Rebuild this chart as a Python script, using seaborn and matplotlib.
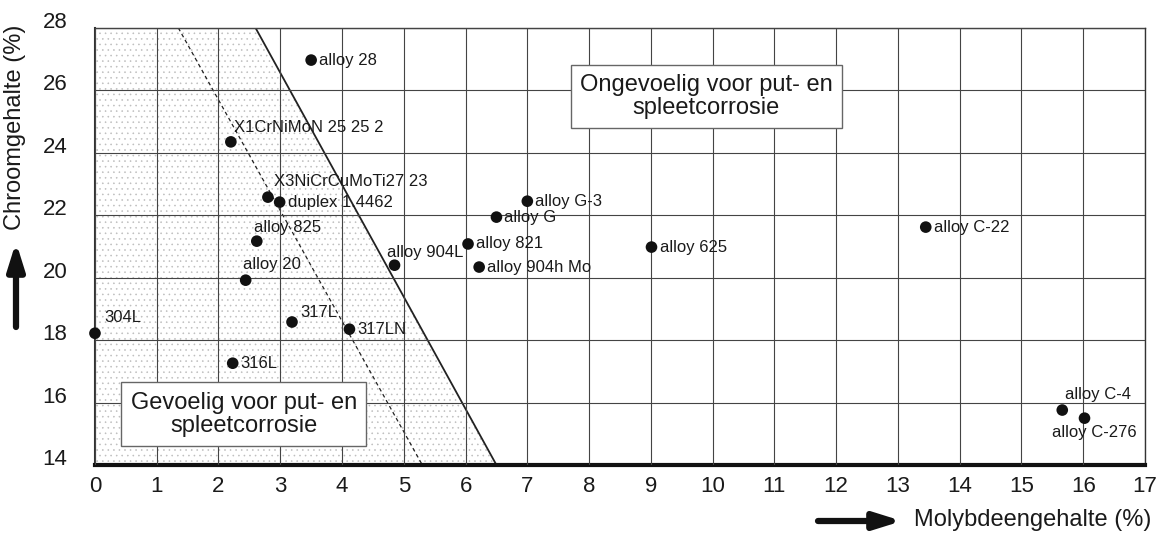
import numpy as np
import pandas as pd
import matplotlib
matplotlib.use("Agg")
import matplotlib.pyplot as plt
import matplotlib.transforms as mtransforms
from matplotlib.patches import FancyArrowPatch
import seaborn as sns

# alloys: molybdenum (%) vs chromium (%)
alloys = ["304L", "316L", "317L", "317LN", "alloy 20", "alloy 825",
          "X3NiCrCuMoTi27 23", "duplex 1.4462", "X1CrNiMoN 25 25 2", "alloy 28",
          "alloy 904L", "alloy 821", "alloy 904h Mo", "alloy G", "alloy G-3",
          "alloy 625", "alloy C-22", "alloy C-4", "alloy C-276"]
molybdeen = [0.0, 2.23, 3.19, 4.12, 2.44, 2.62, 2.8, 2.99, 2.2, 3.5,
             4.85, 6.04, 6.22, 6.5, 7.0, 9.01, 13.45, 15.66, 16.02]
chroom = [18.22, 17.26, 18.58, 18.35, 19.92, 21.17, 22.58, 22.42, 24.35, 26.97,
          20.4, 21.08, 20.34, 21.94, 22.45, 20.98, 21.62, 15.76, 15.5]

# boundary of sensitive zone and dashed line
zone_x = [0, 0, 2.6, 6.5]
zone_y = [14, 28, 28, 14]
dash_x = [1.35, 5.3]
dash_y = [28, 14]

df = pd.DataFrame({"alloy": alloys, "Mo": molybdeen, "Cr": chroom})

sns.set_style("white")
plt.rcParams["font.family"] = ["Liberation Sans", "DejaVu Sans"]
plt.rcParams["hatch.linewidth"] = 0.4

fig = plt.figure(figsize=(11.58, 5.33), dpi=100)
ax = fig.add_axes([0.082, 0.1276, 0.9068, 0.82])

# stippled zone: hatch colour follows the edge colour, outline drawn separately
ax.fill(zone_x, zone_y, facecolor="white", edgecolor="#bdbdbd", hatch="...",
        linewidth=0, zorder=1)
ax.plot(zone_x[2:], zone_y[2:], color="#222222", linewidth=1.3, zorder=2)
ax.plot(dash_x, dash_y, color="#222222", linestyle=(0, (3, 2.5)), linewidth=0.9, zorder=2)

ax.set_xlim(0, 17)
ax.set_ylim(14, 28)
ax.set_xticks(np.arange(0, 18, 1))
ax.set_yticks(np.arange(14, 29, 2))
ax.grid(True, color="#444444", linewidth=0.8, zorder=1.5)
ax.set_axisbelow(False)
ax.tick_params(axis="both", length=0, labelsize=16, colors="#1a1a1a")
ax.tick_params(axis="x", pad=8)
ax.tick_params(axis="y", pad=20)

for sp in ax.spines.values():
    sp.set_color("#333333")
    sp.set_linewidth(1.0)
ax.spines["bottom"].set_linewidth(3)
ax.spines["bottom"].set_color("#111111")
ax.spines["left"].set_linewidth(1.5)

# y tick labels sit slightly above their gridlines
shift = mtransforms.ScaledTranslation(0, 8 / 100, fig.dpi_scale_trans)
for lab in ax.get_yticklabels():
    lab.set_transform(lab.get_transform() + shift)

sns.scatterplot(data=df, x="Mo", y="Cr", color="#111111", s=70,
                edgecolor="none", ax=ax, zorder=5, clip_on=False, legend=False)
ax.set_xlabel("")
ax.set_ylabel("")

# label positions relative to each point (dx, dy in data units, alignment)
offsets = {
    "304L": (0.15, 0.5, "left"),
    "316L": (0.13, 0.0, "left"),
    "317L": (0.13, 0.3, "left"),
    "317LN": (0.13, 0.0, "left"),
    "alloy 20": (-0.04, 0.5, "left"),
    "alloy 825": (-0.04, 0.45, "left"),
    "X3NiCrCuMoTi27 23": (0.1, 0.5, "left"),
    "duplex 1.4462": (0.13, 0.0, "left"),
    "X1CrNiMoN 25 25 2": (0.05, 0.45, "left"),
    "alloy 28": (0.13, 0.0, "left"),
    "alloy 904L": (-0.12, 0.4, "left"),
    "alloy 821": (0.13, 0.0, "left"),
    "alloy 904h Mo": (0.13, 0.0, "left"),
    "alloy G": (0.13, 0.0, "left"),
    "alloy G-3": (0.13, 0.0, "left"),
    "alloy 625": (0.13, 0.0, "left"),
    "alloy C-22": (0.13, 0.0, "left"),
    "alloy C-4": (0.05, 0.5, "left"),
    "alloy C-276": (0.16, -0.45, "center"),
}
for name, xv, yv in zip(alloys, molybdeen, chroom):
    dx, dy, ha = offsets[name]
    ax.text(xv + dx, yv + dy, name, fontsize=12, ha=ha, va="center",
            color="#1a1a1a", zorder=6)

box = dict(boxstyle="square,pad=0.4", facecolor="white", edgecolor="#666666", linewidth=1.0)
ax.text(9.9, 25.8, "Ongevoelig voor put- en\nspleetcorrosie", fontsize=17,
        ha="center", va="center", linespacing=1.05, bbox=box, zorder=7, color="#1a1a1a")
ax.text(2.41, 15.63, "Gevoelig voor put- en\nspleetcorrosie", fontsize=17,
        ha="center", va="center", linespacing=1.05, bbox=box, zorder=7, color="#1a1a1a")

# axis titles with arrows
fig.text(15 / 1158, 1 - 127 / 533, "Chroomgehalte (%)", rotation=90, fontsize=17,
         ha="center", va="center", color="#1a1a1a")
fig.text(1151 / 1158, 1 - 520 / 533, "Molybdeengehalte (%)", fontsize=17,
         ha="right", va="center", color="#1a1a1a")
arrow = dict(arrowstyle="-|>,head_length=0.8,head_width=0.25", color="#111111",
             linewidth=4.5, shrinkA=0, shrinkB=0, mutation_scale=20)
fig.add_artist(FancyArrowPatch(
    (16 / 1158, 1 - 327 / 533), (16 / 1158, 1 - 242 / 533),
    transform=fig.transFigure, **arrow))
fig.add_artist(FancyArrowPatch(
    (818 / 1158, 1 - 521 / 533), (902 / 1158, 1 - 521 / 533),
    transform=fig.transFigure, **arrow))

fig.savefig("out.png", dpi=100)
